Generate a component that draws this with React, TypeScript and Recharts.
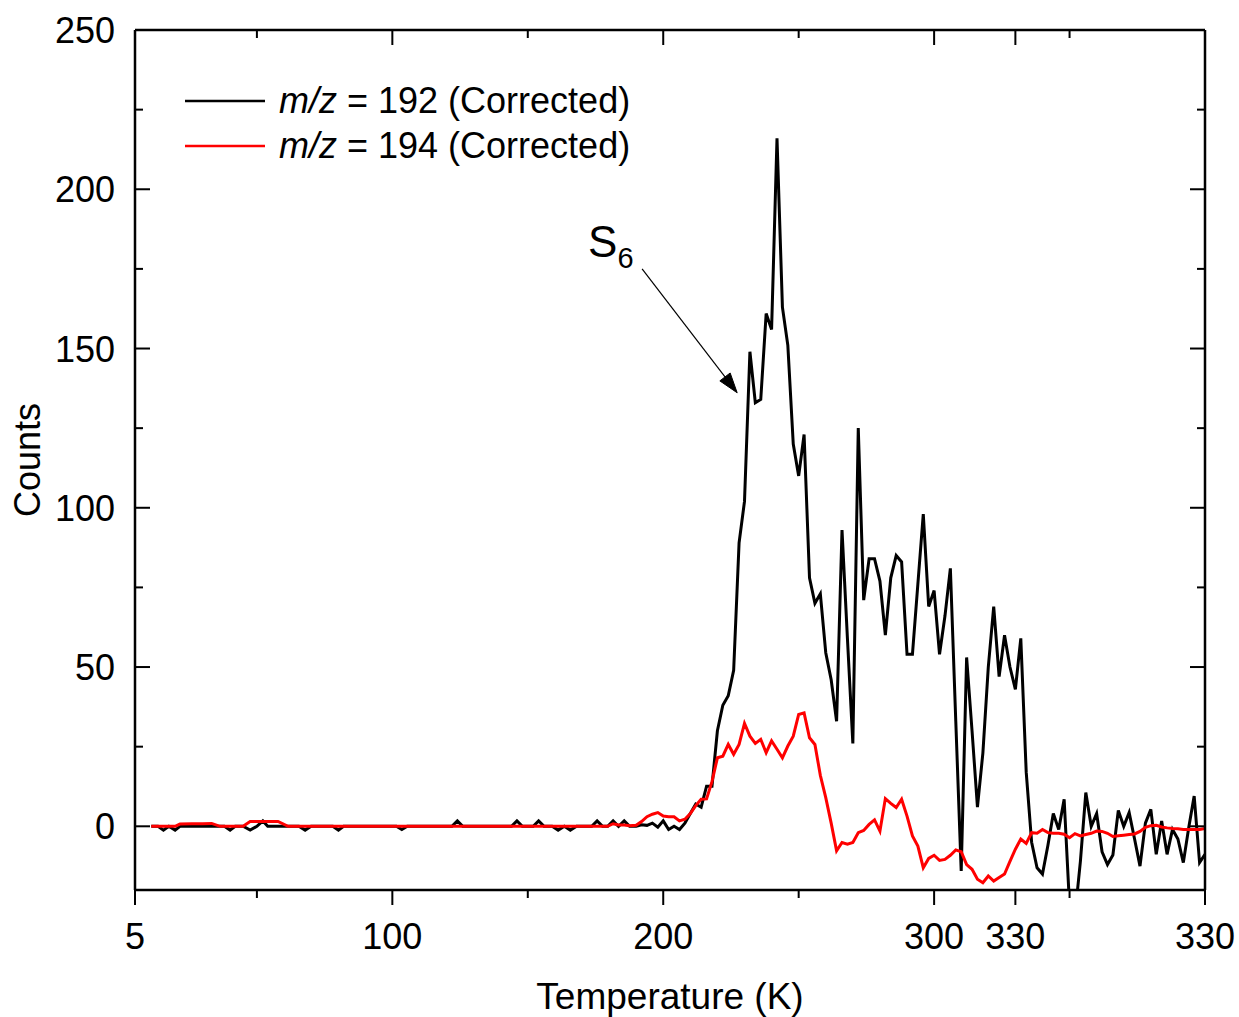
import React from 'react';
import { LineChart, Line, XAxis, YAxis, Legend, ReferenceLine } from 'recharts';

const FONT = '"Liberation Sans", Arial, Helvetica, sans-serif';

// x positions (temperature ramp, 5 K -> 330 K, then held at 330 K; axis value 400 = end of hold)
const temperatureK = [
  11, 13.5, 15.5, 17.5, 19.8, 21.6, 26, 30, 33.3, 36.4,
  38, 40.1, 42, 44.9, 47.5, 50, 52.2, 54, 57.8, 61.5,
  65.5, 67.8, 70, 78, 80.1, 82, 101.5, 103.5, 105.5, 122,
  124, 126, 144, 146, 148, 152, 154, 156, 159, 161.2,
  163.5, 165.7, 168, 173.6, 175.6, 177.6, 179.5, 181.5, 183.5, 185.6,
  187.6, 190, 192, 194,
  196, 198, 200, 202, 204, 206, 208, 210, 212, 214,
  216, 218, 220, 222, 224, 226, 228, 230, 232, 234,
  236, 238, 240, 242, 244, 246, 248, 250, 252, 254,
  256, 258, 260, 262, 264, 266, 268, 270, 272, 274,
  276, 278, 280, 282, 284, 286, 288, 290, 292, 294,
  296, 298, 300, 302, 304, 306, 308, 310, 312, 314,
  316, 318, 320, 322, 324, 326, 328, 330, 332, 334,
  336, 338, 340, 342, 344, 346, 348, 350, 352, 354,
  356, 358, 360, 362, 364, 366, 368, 370, 372, 374,
  376, 378, 380, 382, 384, 386, 388, 390, 392, 394,
  396, 398, 400,
];

const counts192 = [
  0, 0, -1.2, 0, -1.2, 0, 0, 0, 0, 0,
  0, -1.2, 0, 0, -1.2, 0, 1.7, 0, 0, 0,
  0, -1.2, 0, 0, -1.2, 0, 0, -1, 0, 0,
  1.7, 0, 0, 1.7, 0, 0, 1.7, 0, 0, -1.2,
  0, -1.2, 0, 0, 1.7, 0, 0, 1.7, 0, 1.7,
  0, 0, 0.5, 0.3,
  1, -0.3, 1.7, -1, 0, -1, 1, 4, 7, 6,
  12.6, 12.6, 30, 38, 41, 49, 89, 102, 149, 133,
  134, 161, 156, 216, 163, 151, 120, 110, 123, 78,
  70, 73, 54.5, 46, 33, 93, 59, 26, 125, 71,
  84, 84, 77, 60, 78, 85, 83, 54, 54, 76,
  98, 69, 74, 54, 66, 81, 33, -14, 53, 30,
  6, 23, 50, 69, 47, 60, 50, 43, 59, 17,
  -5, -13, -15, -6, 4, -1, 8.5, -25, -28, -11,
  10.6, 0, 4, -8, -12, -9, 5, 0, 4.3, -4,
  -12.5, 1, 5.3, -8.8, 1.7, -8.8, -1, -4, -11.4, -0.4,
  9.5, -11.4, -8.8,
];

const counts194 = [
  0, 0, 0, 0, 0, 0.7, 0.8, 0.8, 0.9, 0,
  0, 0, 0, 0, 1.5, 1.5, 1.5, 1.5, 1.5, 0,
  0, 0, 0, 0, 0, 0, 0, 0, 0, 0,
  0, 0, 0, 0, 0, 0, 0, 0, 0, 0,
  0, 0, 0, 0, 0, 0, 0, 0.8, 0.4, 0.4,
  0.2, 0.3, 1.5, 3,
  3.8, 4.3, 3.2, 3, 3, 1.7, 2.2, 4, 6.5, 8.5,
  8.6, 14, 21.5, 22, 25.7, 22.6, 25.7, 32.3, 28.3, 26,
  27.3, 23.1, 26.8, 24.2, 21.5, 25.2, 28.3, 35.1, 35.6, 27.8,
  25.7, 16, 9, 1, -7.7, -5.1, -5.6, -5.1, -2, -1.3,
  0.6, 2, -1.5, 8.7, 7.2, 5.9, 8.5, 3.2, -3, -6.2,
  -13, -10.1, -9.1, -10.7, -10.4, -9.1, -7.4, -8, -12, -13.5,
  -16.6, -17.7, -15.6, -17.2, -16.1, -15, -11, -7.2, -4, -5.4,
  -2, -2.2, -1, -2, -2.2, -2.2, -2.5, -3.6, -2.3, -3,
  -2.6, -2.2, -1.5, -1.6, -2.2, -3.2, -3, -2.8, -2.6, -2.4,
  -1.6, -0.3, 0.2, 0.3, -0.2, -0.5, -0.7, -0.8, -1, -1,
  -1, -1, -0.7,
];

const seriesKeys = ['c192', 'c194'];
const seriesMasses = ['192', '194'];
const seriesColors = ['#000000', '#ff0000'];

const xTickValues = [5, 50, 100, 150, 200, 250, 300, 330, 350, 400];
const xTickLabels = ['5', '', '100', '', '200', '', '300', '330', '', '330'];
const yTickValues = [0, 25, 50, 75, 100, 125, 150, 175, 200, 225, 250];
const yTickLabels = ['0', '', '50', '', '100', '', '150', '', '200', '', '250'];

const arrowFrom = { x: 192.2, y: 175 };
const arrowTo = { x: 227.3, y: 136.1 };
const peakName = ['S', '6'];

const data = temperatureK.map((t, i) => ({ t, c192: counts192[i], c194: counts194[i] }));

const TICK_FONT = 36;
const MAJOR = 15;
const MINOR = 8;
const AXIS_W = 2.5;

function xLabel(v: number) {
  const i = xTickValues.indexOf(v);
  return i >= 0 ? xTickLabels[i] : '';
}
function yLabel(v: number) {
  const i = yTickValues.indexOf(v);
  return i >= 0 ? yTickLabels[i] : '';
}

const BottomTick = (p: any) => {
  const { x, y, payload } = p;
  const label = xLabel(payload.value);
  const major = label !== '';
  return (
    <g>
      <line x1={x} y1={y} x2={x} y2={y + (major ? MAJOR : MINOR)} stroke="#000" strokeWidth={2} />
      {major && (
        <text x={x} y={y + 59} textAnchor="middle" fontSize={TICK_FONT} fill="#000" fontFamily={FONT}>
          {label}
        </text>
      )}
    </g>
  );
};

const TopTick = (p: any) => {
  const { x, y, payload } = p;
  const major = xLabel(payload.value) !== '';
  return <line x1={x} y1={y} x2={x} y2={y + (major ? MAJOR : MINOR)} stroke="#000" strokeWidth={2} />;
};

const LeftTick = (p: any) => {
  const { x, y, payload } = p;
  const label = yLabel(payload.value);
  const major = label !== '';
  return (
    <g>
      <line x1={x} y1={y} x2={x + (major ? MAJOR : MINOR)} y2={y} stroke="#000" strokeWidth={2} />
      {major && (
        <text x={x - 20} y={y + 13} textAnchor="end" fontSize={TICK_FONT} fill="#000" fontFamily={FONT}>
          {label}
        </text>
      )}
    </g>
  );
};

const RightTick = (p: any) => {
  const { x, y, payload } = p;
  const major = yLabel(payload.value) !== '';
  return <line x1={x} y1={y} x2={x - (major ? MAJOR : MINOR)} y2={y} stroke="#000" strokeWidth={2} />;
};

const XTitle = (p: any) => {
  const vb = p.viewBox || { x: 135, y: 890, width: 1070 };
  return (
    <text x={vb.x + vb.width / 2} y={vb.y + 119} textAnchor="middle" fontSize={37} fill="#000" fontFamily={FONT}>
      Temperature (K)
    </text>
  );
};

const YTitle = (p: any) => {
  const vb = p.viewBox || { x: 35, y: 30, height: 860 };
  const cx = vb.x + 5;
  const cy = vb.y + vb.height / 2;
  return (
    <text x={cx} y={cy} transform={`rotate(-90 ${cx} ${cy})`} textAnchor="middle" fontSize={TICK_FONT} fill="#000" fontFamily={FONT}>
      Counts
    </text>
  );
};

const ArrowShape = (p: any) => {
  const { x1, y1, x2, y2 } = p;
  const dx = x2 - x1;
  const dy = y2 - y1;
  const L = Math.hypot(dx, dy) || 1;
  const ux = dx / L;
  const uy = dy / L;
  const head = 20;
  const hw = 6.5;
  const bx = x2 - ux * head;
  const by = y2 - uy * head;
  const pts = `${x2},${y2} ${bx - uy * hw},${by + ux * hw} ${bx + uy * hw},${by - ux * hw}`;
  return (
    <g>
      <line x1={x1} y1={y1} x2={bx} y2={by} stroke="#000" strokeWidth={1.2} />
      <polygon points={pts} fill="#000" stroke="#000" strokeWidth={1} />
      <text x={x1 - 54} y={y1 - 12} fontSize={44} fill="#000" fontFamily={FONT}>
        {peakName[0]}
        <tspan fontSize={29} dy={11}>
          {peakName[1]}
        </tspan>
      </text>
    </g>
  );
};

const LegendContent = () => (
  <svg width={480} height={95} style={{ display: 'block', overflow: 'visible' }}>
    {seriesMasses.map((m, i) => (
      <g key={m}>
        <line x1={7} x2={87} y1={22 + 45 * i} y2={22 + 45 * i} stroke={seriesColors[i]} strokeWidth={2.5} />
        <text x={101} y={34 + 45 * i} fontSize={TICK_FONT} fill="#000" fontFamily={FONT}>
          <tspan fontStyle="italic">m/z</tspan>
          <tspan> = {m} (Corrected)</tspan>
        </text>
      </g>
    ))}
  </svg>
);

export default function App() {
  return (
    <div style={{ position: 'absolute', left: 0, top: 0, width: 1239, height: 1017, background: '#fff' }}>
      <LineChart
        width={1239}
        height={1017}
        data={data}
        margin={{ top: 29, right: 33, bottom: 67, left: 35 }}
        style={{ fontFamily: FONT, background: '#fff' }}
      >
        <XAxis
          xAxisId="b"
          dataKey="t"
          type="number"
          domain={[5, 400]}
          allowDataOverflow
          ticks={xTickValues}
          interval={0}
          tickSize={0}
          tickMargin={0}
          tickLine={false}
          tick={BottomTick}
          height={60}
          axisLine={{ stroke: '#000', strokeWidth: AXIS_W }}
          label={XTitle}
        />
        <XAxis
          xAxisId="t"
          orientation="top"
          dataKey="t"
          type="number"
          domain={[5, 400]}
          allowDataOverflow
          ticks={xTickValues}
          interval={0}
          tickSize={0}
          tickMargin={0}
          tickLine={false}
          tick={TopTick}
          height={1}
          axisLine={{ stroke: '#000', strokeWidth: AXIS_W }}
        />
        <YAxis
          yAxisId="l"
          type="number"
          domain={[-20, 250]}
          allowDataOverflow
          ticks={yTickValues}
          interval={0}
          tickSize={0}
          tickMargin={0}
          tickLine={false}
          tick={LeftTick}
          width={100}
          axisLine={{ stroke: '#000', strokeWidth: AXIS_W }}
          label={YTitle}
        />
        <YAxis
          yAxisId="r"
          orientation="right"
          type="number"
          domain={[-20, 250]}
          allowDataOverflow
          ticks={yTickValues}
          interval={0}
          tickSize={0}
          tickMargin={0}
          tickLine={false}
          tick={RightTick}
          width={1}
          axisLine={{ stroke: '#000', strokeWidth: AXIS_W }}
        />
        <Legend
          layout="vertical"
          align="center"
          verticalAlign="middle"
          wrapperStyle={{ position: 'absolute', left: 178, top: 79, width: 480, height: 95 }}
          content={LegendContent}
        />
        {seriesKeys.map((k, i) => (
          <Line
            key={k}
            xAxisId="b"
            yAxisId="l"
            type="linear"
            dataKey={k}
            name={seriesMasses[i]}
            stroke={seriesColors[i]}
            strokeWidth={3}
            dot={false}
            activeDot={false}
            isAnimationActive={false}
          />
        ))}
        <ReferenceLine
          xAxisId="b"
          yAxisId="l"
          segment={[arrowFrom, arrowTo]}
          shape={ArrowShape}
          ifOverflow="visible"
        />
      </LineChart>
    </div>
  );
}
